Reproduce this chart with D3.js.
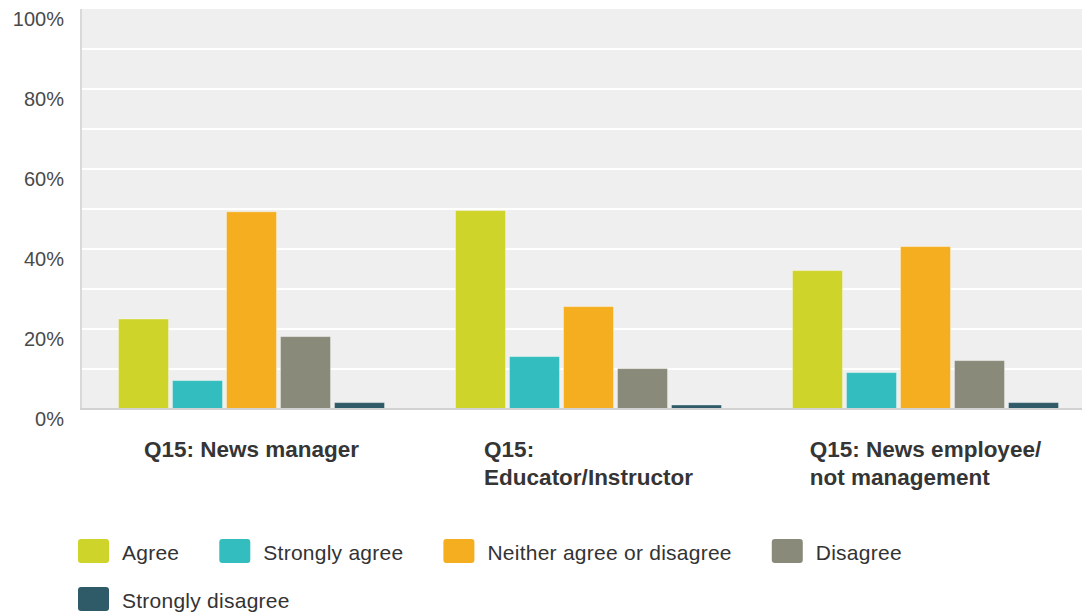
<!DOCTYPE html>
<html>
<head>
<meta charset="utf-8">
<script src="https://cdn.jsdelivr.net/npm/d3@7"></script>
<style>
  html, body { margin: 0; padding: 0; background: #ffffff; }
  svg { display: block; font-family: Arial, "Liberation Sans", sans-serif; }
</style>
</head>
<body>
<svg id="chart" width="1082" height="614"></svg>
<script>
// Survey responses by role (percent of respondents)
const categories = ["Q15: News manager", "Q15: Educator/Instructor", "Q15: News employee/ not management"];
const seriesNames = ["Agree", "Strongly agree", "Neither agree or disagree", "Disagree", "Strongly disagree"];
const seriesColors = ["#cfd42a", "#33bdbf", "#f5ae1f", "#8a8a7a", "#2e5b67"];
const agree = [22.5, 49.6, 34.6];
const stronglyAgree = [7.1, 13.1, 9.1];
const neither = [49.3, 25.6, 40.6];
const disagree = [18.1, 10.1, 12.1];
const stronglyDisagree = [1.6, 1.0, 1.6];
const yTicks = [0, 20, 40, 60, 80, 100];
const gridValues = [10, 20, 30, 40, 50, 60, 70, 80, 90];

const seriesValues = [agree, stronglyAgree, neither, disagree, stronglyDisagree];

const svg = d3.select("#chart");
const W = 1082;
const plot = { left: 81, top: 9, right: 1094, bottom: 409 };

const y = d3.scaleLinear().domain([0, 100]).range([plot.bottom, plot.top]);
const x0 = d3.scaleBand().domain(categories).range([83, 1094]).padding(0);
const groupWidth = 266;
const x1 = d3.scaleBand().domain(seriesNames).range([0, groupWidth]).paddingInner(4 / 54);
const groupOffset = (x0.bandwidth() - groupWidth) / 2;

// plot background
svg.append("rect")
  .attr("x", plot.left).attr("y", plot.top)
  .attr("width", plot.right - plot.left).attr("height", plot.bottom - plot.top)
  .attr("fill", "#efefef");

// horizontal gridlines
svg.append("g")
  .selectAll("line")
  .data(gridValues)
  .join("line")
  .attr("x1", plot.left).attr("x2", plot.right)
  .attr("y1", d => y(d)).attr("y2", d => y(d))
  .attr("stroke", "#ffffff").attr("stroke-width", 2);

// left axis line
svg.append("line")
  .attr("x1", plot.left).attr("x2", plot.left)
  .attr("y1", plot.top).attr("y2", plot.bottom + 1)
  .attr("stroke", "#d9d9d9").attr("stroke-width", 2);

// y axis labels
const yAxis = d3.axisLeft(y).tickValues(yTicks).tickFormat(d => d + "%").tickSize(0).tickPadding(0);
const yg = svg.append("g").attr("transform", "translate(64,10)").call(yAxis);
yg.select(".domain").remove();
yg.selectAll("text")
  .attr("font-size", "20px")
  .attr("font-family", "Arial, 'Liberation Sans', sans-serif")
  .attr("fill", "#4a4a4a");

// bars
const groups = svg.append("g")
  .selectAll("g")
  .data(categories)
  .join("g")
  .attr("transform", d => `translate(${x0(d) + groupOffset},0)`);

groups.selectAll("rect")
  .data((c, ci) => seriesNames.map((s, si) => ({ s, si, v: seriesValues[si][ci] })))
  .join("rect")
  .attr("x", d => x1(d.s))
  .attr("width", x1.bandwidth())
  .attr("y", d => y(d.v))
  .attr("height", d => y(0) - y(d.v))
  .attr("fill", d => seriesColors[d.si])
  .attr("stroke", "rgba(255,255,255,0.35)")
  .attr("stroke-width", 1);

// bottom axis line
svg.append("line")
  .attr("x1", plot.left - 1).attr("x2", plot.right)
  .attr("y1", plot.bottom).attr("y2", plot.bottom)
  .attr("stroke", "#d2d2d2").attr("stroke-width", 2);

// category labels: wrapped block centred on the group, lines left-aligned
const labelSize = 22.5;
const measure = svg.append("text")
  .attr("font-size", labelSize + "px").attr("font-weight", "bold")
  .attr("visibility", "hidden");
function textWidth(str) { measure.text(str); return measure.node().getComputedTextLength(); }
function wrap(str, maxW) {
  const words = str.split(/\s+/);
  const lines = [];
  let cur = "";
  words.forEach(w => {
    const test = cur ? cur + " " + w : w;
    if (cur && textWidth(test) > maxW) { lines.push(cur); cur = w; }
    else cur = test;
  });
  if (cur) lines.push(cur);
  return lines;
}
categories.forEach(c => {
  const lines = wrap(c, 245);
  const maxW = d3.max(lines, l => textWidth(l));
  const cx = x0(c) + x0.bandwidth() / 2;
  const t = svg.append("text")
    .attr("font-size", labelSize + "px").attr("font-weight", "bold")
    .attr("fill", "#353535");
  lines.forEach((l, i) => {
    t.append("tspan").attr("x", cx - maxW / 2).attr("y", 457 + i * 28).text(l);
  });
});
measure.remove();

// legend, flowing left to right and wrapping
const legendSize = 21;
const lg = svg.append("g");
let lx = 78, row = 0;
const rowY = [551, 599];
seriesNames.forEach((name, i) => {
  const t = lg.append("text")
    .attr("font-size", legendSize + "px")
    .attr("letter-spacing", "0.25px")
    .attr("fill", "#333333")
    .attr("dominant-baseline", "central")
    .text(name);
  const tw = t.node().getComputedTextLength();
  if (lx + 44 + tw > W && lx > 78) { row += 1; lx = 78; }
  const cy = rowY[row];
  lg.append("rect")
    .attr("x", lx).attr("y", cy - 12)
    .attr("width", 31).attr("height", 24)
    .attr("rx", 3).attr("ry", 3)
    .attr("fill", seriesColors[i]);
  t.attr("x", lx + 44).attr("y", cy + 1);
  lx = lx + 44 + tw + 40;
});
</script>
</body>
</html>
